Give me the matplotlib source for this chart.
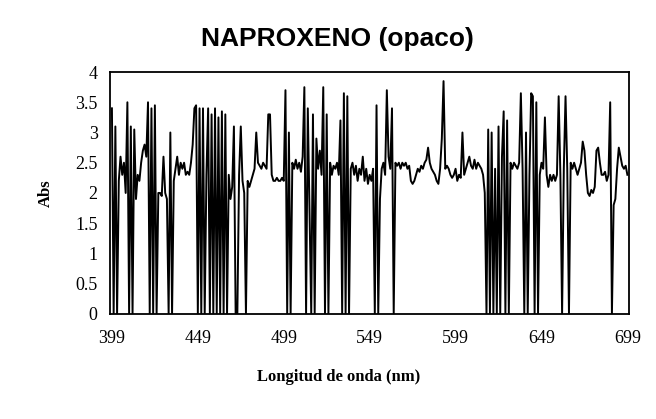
import numpy as np
import matplotlib
matplotlib.use("Agg")
import matplotlib.pyplot as plt

# absorbance, one value per nm starting at 399 nm
abs_399_438 = [3.4, 0.0, 3.1, 0.0, 2.2, 2.6, 2.3, 2.5, 2.0, 3.5,
               0.0, 3.1, 0.0, 3.05, 1.9, 2.3, 2.2, 2.5, 2.7, 2.8,
               2.6, 3.5, 0.0, 3.4, 0.0, 3.45, 0.0, 2.0, 2.0, 1.95,
               2.6, 2.0, 1.9, 0.0, 3.0, 0.0, 2.2, 2.4, 2.6, 2.3]
abs_439_478 = [2.5, 2.4, 2.5, 2.3, 2.35, 2.3, 2.5, 2.8, 3.4, 3.45,
               0.0, 3.4, 0.0, 3.4, 0.0, 2.3, 3.4, 0.0, 3.3, 0.0,
               3.4, 0.0, 3.25, 0.0, 3.35, 0.0, 3.3, 0.0, 2.3, 1.9,
               2.1, 3.1, 0.0, 0.0, 2.3, 3.1, 2.2, 2.0, 0.0, 2.2]
abs_479_518 = [2.1, 2.2, 2.3, 2.4, 3.0, 2.5, 2.45, 2.4, 2.5, 2.45,
               2.4, 3.3, 3.3, 2.3, 2.2, 2.2, 2.25, 2.2, 2.2, 2.25,
               2.2, 3.7, 0.0, 3.0, 0.0, 2.5, 2.4, 2.55, 2.4, 2.5,
               2.35, 2.6, 3.75, 0.0, 3.4, 1.7, 0.0, 3.3, 0.0, 2.9]
abs_519_558 = [2.4, 2.7, 2.3, 3.75, 0.0, 3.3, 0.0, 2.5, 2.3, 2.45,
               2.4, 2.5, 2.3, 3.2, 0.0, 3.65, 0.0, 3.6, 0.0, 2.4,
               2.5, 2.3, 2.45, 2.2, 2.4, 2.3, 2.6, 2.2, 2.4, 2.15,
               2.3, 2.2, 2.4, 0.0, 3.45, 0.0, 1.9, 2.4, 2.5, 2.3]
abs_559_598 = [3.7, 2.6, 2.4, 3.4, 0.0, 2.5, 2.45, 2.5, 2.4, 2.5,
               2.45, 2.5, 2.4, 2.45, 2.2, 2.15, 2.2, 2.3, 2.4, 2.35,
               2.45, 2.4, 2.5, 2.55, 2.75, 2.5, 2.4, 2.35, 2.3, 2.2,
               2.15, 2.4, 2.9, 3.85, 2.4, 2.45, 2.4, 2.3, 2.25, 2.3]
abs_599_638 = [2.4, 2.2, 2.3, 2.25, 3.0, 2.3, 2.4, 2.5, 2.6, 2.45,
               2.4, 2.55, 2.4, 2.5, 2.45, 2.4, 2.3, 2.0, 0.0, 3.05,
               0.0, 3.0, 0.0, 2.4, 0.0, 3.1, 0.0, 2.6, 3.35, 0.0,
               3.2, 0.0, 2.5, 2.4, 2.5, 2.45, 2.4, 2.5, 3.65, 2.4]
abs_639_678 = [0.0, 3.0, 0.0, 2.3, 3.65, 3.6, 0.0, 3.5, 0.0, 2.3,
               2.5, 2.4, 3.25, 2.3, 2.1, 2.3, 2.2, 2.3, 2.2, 2.3,
               3.6, 2.3, 0.0, 2.4, 3.6, 2.4, 0.0, 2.5, 2.4, 2.5,
               2.4, 2.3, 2.4, 2.5, 2.85, 2.7, 2.3, 2.0, 1.95, 2.05]
abs_679_699 = [2.0, 2.1, 2.7, 2.75, 2.5, 2.3, 2.3, 2.35, 2.2, 2.3,
               3.5, 0.0, 1.8, 1.9, 2.4, 2.75, 2.6, 2.45, 2.4, 2.45,
               2.3]

absorb = (abs_399_438 + abs_439_478 + abs_479_518 + abs_519_558 +
          abs_559_598 + abs_599_638 + abs_639_678 + abs_679_699)
wavelength = 399 + np.arange(len(absorb))

x_ticks = [399, 449, 499, 549, 599, 649, 699]
y_ticks = [0, 0.5, 1, 1.5, 2, 2.5, 3, 3.5, 4]

fig = plt.figure(figsize=(6.56, 4.19), dpi=100)
ax = fig.add_axes([0.168, 0.251, 0.791, 0.577])
ax.plot(wavelength, absorb, color="black", lw=1.4)

ax.set_xlim(398, 700)
ax.set_ylim(0, 4)
ax.set_xticks(x_ticks)
ax.set_yticks(y_ticks)
ax.set_yticklabels(["0", "0.5", "1", "1.5", "2", "2.5", "3", "3.5", "4"])
ax.tick_params(length=0, labelsize=13)
ax.tick_params(axis="x", pad=12)
ax.tick_params(axis="y", pad=9)
for lab in ax.get_xticklabels() + ax.get_yticklabels():
    lab.set_fontfamily("Liberation Serif")
for sp in ax.spines.values():
    sp.set_linewidth(1.3)
    sp.set_color("black")

fig.text(0.514, 0.908, "NAPROXENO (opaco)", ha="center", va="center",
         fontsize=19, fontweight="bold", family="Liberation Sans")
fig.text(0.516, 0.1, "Longitud de onda (nm)", ha="center", va="center",
         fontsize=12, fontweight="bold", family="Liberation Serif")
fig.text(0.07, 0.54, "Abs", ha="center", va="center", rotation=90,
         fontsize=12, fontweight="bold", family="Liberation Serif")

fig.savefig("out.png", dpi=100)
